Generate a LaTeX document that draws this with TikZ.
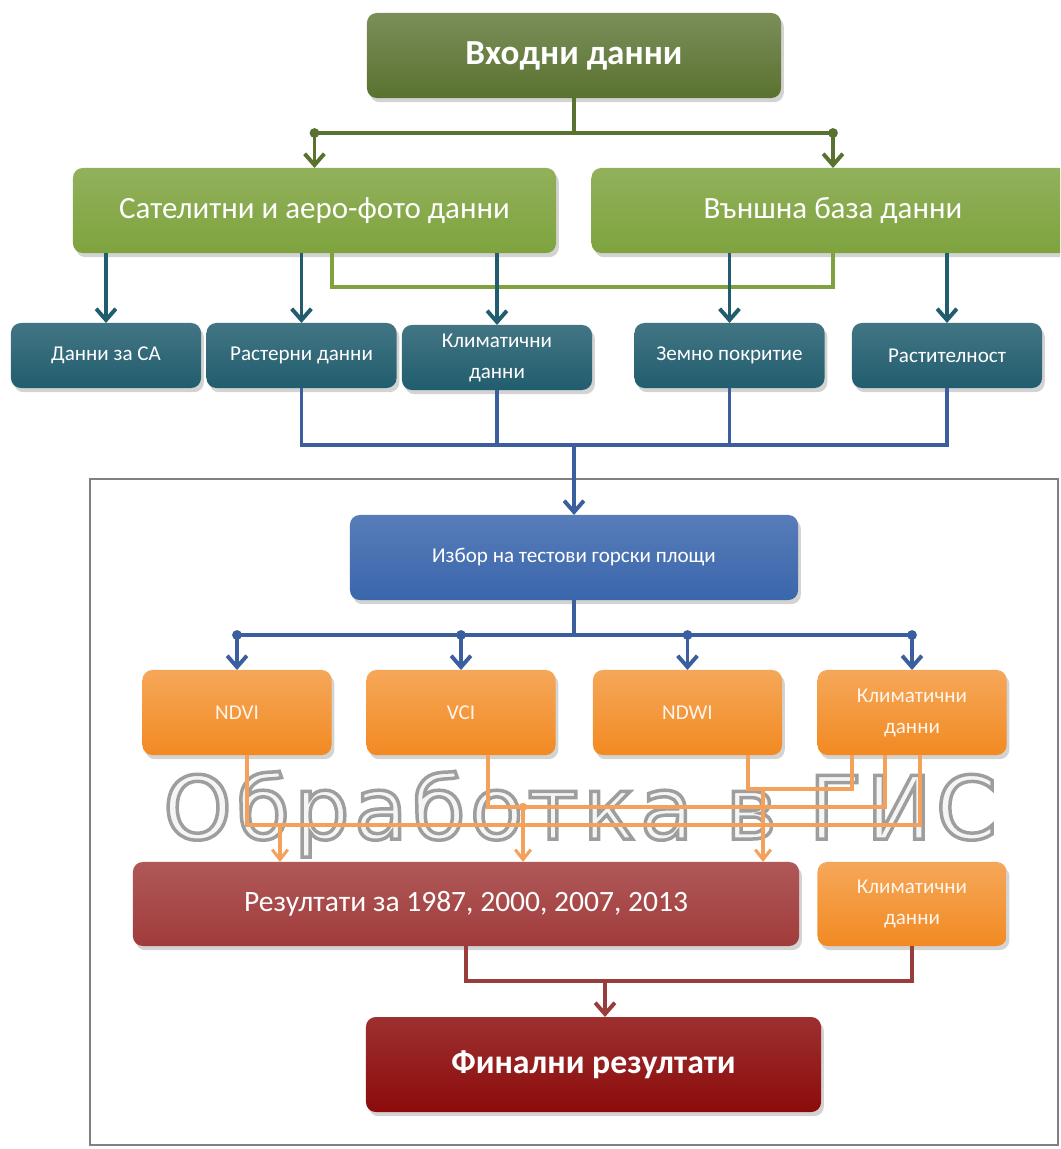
\documentclass[tikz,border=0pt]{standalone}
\usepackage{fontspec}
\setmainfont{Carlito}
\newfontfamily\wmfont[LetterSpace=5, FakeBold=4]{DejaVu Sans}
\usepackage{tikz}
\usetikzlibrary{positioning, arrows.meta, shadows}

\definecolor{vhodC}{HTML}{5A7230}
\definecolor{satC}{HTML}{7EA33E}
\definecolor{tealC}{HTML}{215D6E}
\definecolor{blueC}{HTML}{3A66AC}
\definecolor{lineblueC}{HTML}{3B5E9E}
\definecolor{orangeC}{HTML}{F28A22}
\definecolor{olineC}{HTML}{F2A25C}
\definecolor{resC}{HTML}{A13B3B}
\definecolor{finalC}{HTML}{8C0B0B}
\definecolor{rlineC}{HTML}{9A3C3C}

\begin{document}
\begin{tikzpicture}[x=0.025cm, y=-0.025cm, line width=2.8pt,
    >={Straight Barb[length=8pt, width=14pt]},
    box/.style={rectangle, rounded corners=7pt, text=white, align=center, outer sep=0pt,
        drop shadow={shadow xshift=2pt, shadow yshift=-3pt, opacity=0.35}},
    input node/.style={box, top color=vhodC!80!white, bottom color=vhodC,
        minimum width=10.35cm, minimum height=2.125cm, font=\fontsize{25}{30}\selectfont\bfseries},
    source node/.style={box, top color=satC!85!white, bottom color=satC,
        minimum width=12.075cm, minimum height=2.125cm, font=\fontsize{22}{26}\selectfont},
    data node/.style={box, top color=tealC!85!white, bottom color=tealC,
        minimum width=4.75cm, minimum height=1.625cm, font=\fontsize{15}{22}\selectfont},
    select node/.style={box, top color=blueC!85!white, bottom color=blueC,
        minimum width=11.2cm, minimum height=2.125cm, font=\fontsize{15}{18}\selectfont},
    index node/.style={box, top color=orangeC!75!white, bottom color=orangeC, text=white!92!orange,
        minimum width=4.725cm, minimum height=2.125cm, font=\fontsize{15}{22}\selectfont},
    result node/.style={box, top color=resC!85!white, bottom color=resC,
        minimum width=16.65cm, minimum height=2.1cm, font=\fontsize{21}{25}\selectfont},
    final node/.style={box, top color=finalC!85!white, bottom color=finalC,
        minimum width=11.375cm, minimum height=2.375cm, font=\fontsize{24}{28}\selectfont\bfseries},
    olive line/.style={draw=vhodC},
    green line/.style={draw=satC},
    teal line/.style={draw=tealC},
    blue line/.style={draw=lineblueC},
    orange line/.style={draw=olineC, line width=2.2pt, >={Straight Barb[length=7pt, width=11pt]}},
    red line/.style={draw=rlineC}]

    \useasboundingbox (0,0) rectangle (1060,1149);
    \clip (0,0) rectangle (1060,1149);

    \draw[gray, line width=1.4pt] (90,479) rectangle (1058,1145);

    \node[anchor=base, font=\wmfont\fontsize{62}{62}\selectfont] (wm) at (580,839)
        {\color{gray!8}\special{pdf:literal direct 0.62 0.62 0.62 RG}Обработка в ГИС};

    \node[input node] (vhod) at (574,55.5) {Входни данни};
    \node[source node] (sat) at (314.5,210.5) {Сателитни и аеро-фото данни};
    \node[source node] (vanshna) at (833,210.5) {Външна база данни};

    \node[data node] (sa) at (106,355.5) {Данни за СА};
    \node[data node] (raster) at (301.5,355.5) {Растерни данни};
    \node[data node] (klim1) at (497,357.5) {Климатични\\данни};
    \node[data node] (zemno) at (729.5,355.5) {Земно покритие};
    \node[data node] (rast) at (947,355.5) {Растителност};

    \node[select node] (izbor) at (574,557.5) {Избор на тестови горски площи};

    \node[index node] (ndvi) at (237,712.5) {NDVI};
    \node[index node] (vci) at (461,712.5) {VCI};
    \node[index node] (ndwi) at (687.5,712.5) {NDWI};
    \node[index node] (klim2) at (912,712.5) {Климатични\\данни};

    \node[result node] (res) at (466,904) {Резултати за 1987, 2000, 2007, 2013};
    \node[index node, minimum height=2.1cm] (klim3) at (912,904) {Климатични\\данни};
    \node[final node] (final) at (593.5,1064.5) {Финални резултати};

    \coordinate (gbar) at (574,133);
    \coordinate (gl) at (332,287);
    \coordinate (bbar) at (574,445);
    \coordinate (obar) at (574,635);
    \coordinate (o1) at (247,825);
    \coordinate (o2) at (488,807);
    \coordinate (o3) at (748,789);
    \coordinate (k1) at (920,825);
    \coordinate (k2) at (885,807);
    \coordinate (k3) at (852,789);
    \coordinate (a1) at (280,825);
    \coordinate (a2) at (523,807);
    \coordinate (a3) at (763,789);
    \coordinate (rbar) at (605,981);

    \draw[olive line] (vhod) -- (gbar);
    \draw[olive line] (sat |- gbar) -- (vanshna |- gbar);
    \foreach \n in {sat, vanshna} {
        \fill[vhodC] (\n |- gbar) circle (3.5pt);
        \draw[olive line, ->] (\n |- gbar) -- (\n);
    }
    \draw[green line] (sat.south -| gl) -- (gl) -- (vanshna |- gl) -- (vanshna.south);

    \foreach \n in {sa, raster, klim1}
        \draw[teal line, ->] (sat.south -| \n) -- (\n);
    \foreach \n in {zemno, rast}
        \draw[teal line, ->] (vanshna.south -| \n) -- (\n);

    \draw[blue line] (raster) -- (raster |- bbar) -- (rast |- bbar) -- (rast);
    \draw[blue line] (klim1) -- (klim1 |- bbar);
    \draw[blue line] (zemno) -- (zemno |- bbar);
    \draw[blue line, ->] (bbar) -- (izbor);

    \draw[blue line] (izbor) -- (obar);
    \draw[blue line] (ndvi |- obar) -- (klim2 |- obar);
    \foreach \n in {ndvi, vci, ndwi, klim2} {
        \fill[lineblueC] (\n |- obar) circle (3.5pt);
        \draw[blue line, ->] (\n |- obar) -- (\n);
    }

    \draw[orange line] (ndvi.south -| o1) -- (o1) -- (k1) -- (klim2.south -| k1);
    \draw[orange line] (vci.south -| o2) -- (o2) -- (k2) -- (klim2.south -| k2);
    \draw[orange line] (ndwi.south -| o3) -- (o3) -- (k3) -- (klim2.south -| k3);
    \fill[olineC] (a2) circle (3pt);
    \foreach \c in {a1, a2, a3}
        \draw[orange line, ->] (\c) -- (res.north -| \c);

    \draw[red line] (res) -- (res |- rbar) -- (klim3 |- rbar) -- (klim3);
    \draw[red line, ->] (rbar) -- (final.north -| rbar);
\end{tikzpicture}
\end{document}
